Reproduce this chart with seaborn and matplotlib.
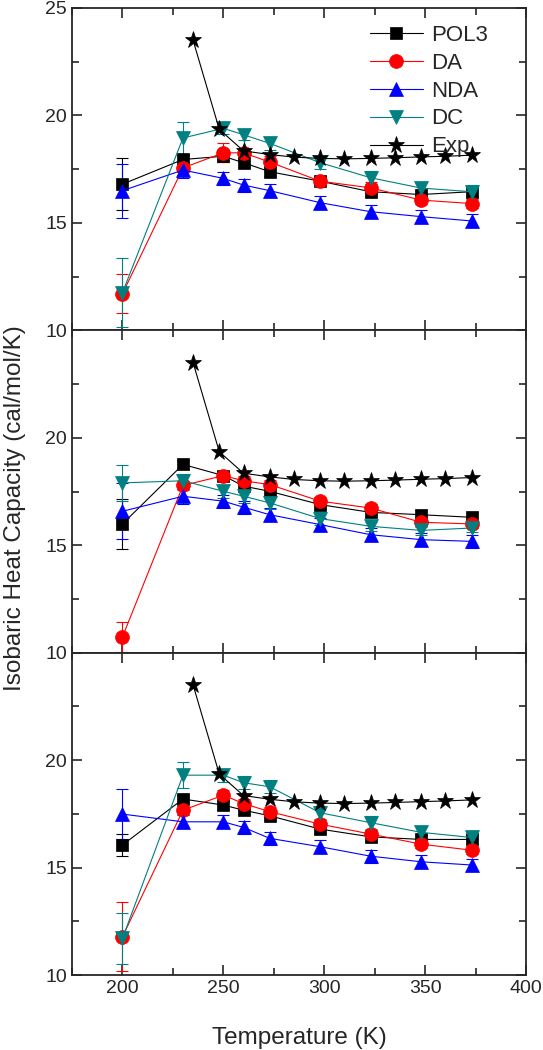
"""
Isobaric heat capacity vs temperature, three stacked panels.
"""

import numpy as np
import pandas as pd
import matplotlib
matplotlib.use("Agg")
import matplotlib.pyplot as plt
from matplotlib.ticker import MultipleLocator
import seaborn as sns

# temperatures of the simulations (K)
temps = [200, 230, 250, 260, 273, 298, 323, 348, 373]

# experimental data
exp_temps = [235, 248, 260, 273, 285, 298, 310, 323, 335, 348, 360, 373]
exp_cp = [23.5, 19.35, 18.35, 18.18, 18.06, 18.0, 17.98, 18.0, 18.03, 18.07, 18.1, 18.15]

# top panel
pol3_top = [16.8, 17.95, 18.1, 17.8, 17.38, 16.94, 16.45, 16.32, 16.45]
pol3_top_err = [1.2, 0.2, 0.25, 0.2, 0.2, 0.2, 0.2, 0.2, 0.2]
da_top = [11.7, 17.56, 18.26, 18.26, 17.83, 16.94, 16.63, 16.06, 15.9]
da_top_err = [0.9, 0.2, 0.45, 0.2, 0.3, 0.2, 0.25, 0.2, 0.2]
nda_top = [16.5, 17.46, 17.07, 16.76, 16.5, 15.94, 15.52, 15.29, 15.09]
nda_top_err = [1.25, 0.35, 0.3, 0.3, 0.3, 0.3, 0.3, 0.3, 0.3]
dc_top = [11.75, 18.95, 19.4, 19.1, 18.7, 17.8, 17.1, 16.62, 16.45]
dc_top_err = [1.6, 0.75, 0.25, 0.25, 0.3, 0.3, 0.3, 0.3, 0.3]

# middle panel
pol3_mid = [15.99, 18.76, 18.24, 17.75, 17.51, 16.89, 16.53, 16.42, 16.3]
pol3_mid_err = [1.15, 0.2, 0.2, 0.2, 0.2, 0.2, 0.2, 0.2, 0.2]
da_mid = [10.73, 17.78, 18.24, 18.0, 17.82, 17.05, 16.73, 16.07, 15.99]
da_mid_err = [0.7, 0.2, 0.2, 0.2, 0.2, 0.2, 0.2, 0.2, 0.2]
nda_mid = [16.58, 17.28, 17.05, 16.77, 16.42, 15.96, 15.49, 15.26, 15.18]
nda_mid_err = [1.3, 0.35, 0.3, 0.3, 0.3, 0.3, 0.3, 0.3, 0.3]
dc_mid = [17.9, 18.0, 17.51, 17.28, 16.97, 16.24, 15.88, 15.69, 15.8]
dc_mid_err = [0.85, 0.3, 0.3, 0.3, 0.3, 0.3, 0.2, 0.2, 0.2]

# bottom panel
pol3_bot = [16.05, 18.19, 17.91, 17.67, 17.41, 16.79, 16.43, 16.31, 16.31]
pol3_bot_err = [0.5, 0.2, 0.2, 0.2, 0.2, 0.2, 0.2, 0.2, 0.2]
da_bot = [11.78, 17.67, 18.37, 17.98, 17.6, 17.02, 16.56, 16.09, 15.81]
da_bot_err = [1.6, 0.2, 0.25, 0.2, 0.2, 0.2, 0.2, 0.2, 0.2]
nda_bot = [17.49, 17.13, 17.13, 16.87, 16.36, 15.97, 15.53, 15.27, 15.12]
nda_bot_err = [1.15, 0.3, 0.3, 0.3, 0.3, 0.3, 0.3, 0.3, 0.3]
dc_bot = [11.7, 19.3, 19.3, 18.95, 18.76, 17.55, 17.09, 16.64, 16.4]
dc_bot_err = [1.2, 0.6, 0.3, 0.3, 0.3, 0.3, 0.3, 0.3, 0.3]

series_names = ["POL3", "DA", "NDA", "DC"]
series_colors = ["black", "#ff0000", "#0000ff", "#008080"]
series_markers = ["s", "o", "^", "v"]
series_msize = [9, 10, 10.5, 10.5]

panels = [
    [(pol3_top, pol3_top_err), (da_top, da_top_err), (nda_top, nda_top_err), (dc_top, dc_top_err)],
    [(pol3_mid, pol3_mid_err), (da_mid, da_mid_err), (nda_mid, nda_mid_err), (dc_mid, dc_mid_err)],
    [(pol3_bot, pol3_bot_err), (da_bot, da_bot_err), (nda_bot, nda_bot_err), (dc_bot, dc_bot_err)],
]

sns.set_style("ticks")
plt.rcParams["font.family"] = ["Liberation Sans", "DejaVu Sans"]

fig, axes = plt.subplots(3, 1, sharex=True, figsize=(5.43, 10.5), dpi=100)
fig.subplots_adjust(left=0.1326, right=0.9687, bottom=0.0714, top=0.9924, hspace=0)

for i, ax in enumerate(axes):
    for (vals, errs), name, col, mk, ms in zip(panels[i], series_names,
                                               series_colors, series_markers, series_msize):
        df = pd.DataFrame({"T": temps, "Cp": vals})
        ax.errorbar(temps, vals, yerr=errs, fmt="none", ecolor=col,
                    elinewidth=0.8, capsize=4, capthick=0.8, zorder=2)
        sns.lineplot(data=df, x="T", y="Cp", ax=ax, color=col, marker=mk,
                     markersize=ms, markeredgecolor=col, markeredgewidth=0.5,
                     linewidth=0.8, label=name, legend=False, zorder=3)
    df_exp = pd.DataFrame({"T": exp_temps, "Cp": exp_cp})
    sns.lineplot(data=df_exp, x="T", y="Cp", ax=ax, color="black", marker="*",
                 markersize=12.5, markeredgecolor="black", markeredgewidth=0.5,
                 linewidth=0.8, label="Exp", legend=False, zorder=4)

    ax.set_xlim(175, 400)
    ax.set_ylim(10, 25)
    ax.xaxis.set_major_locator(MultipleLocator(50))
    ax.xaxis.set_minor_locator(MultipleLocator(25))
    ax.set_yticks([10, 15, 20, 25])
    ax.yaxis.set_minor_locator(MultipleLocator(2.5))
    if i > 0:
        ax.set_yticklabels(["10", "15", "20", ""])
    ax.tick_params(which="both", direction="in", top=True, right=True,
                   width=1.2, labelsize=14)
    ax.tick_params(which="major", length=7)
    ax.tick_params(which="minor", length=5)
    for sp in ax.spines.values():
        sp.set_linewidth(1.3)
        sp.set_visible(True)
    ax.set_xlabel("")
    ax.set_ylabel("")

axes[2].set_xlabel("Temperature (K)", fontsize=17.5, labelpad=22)

handles, labels = axes[0].get_legend_handles_labels()
axes[0].legend(handles, labels, loc="upper left", bbox_to_anchor=(0.656, 0.948),
               frameon=False, fontsize=16, handlelength=2.4, handletextpad=0.35,
               labelspacing=0.31, borderpad=0, borderaxespad=0)

fig.text(0.027, 0.516, "Isobaric Heat Capacity (cal/mol/K)", rotation=90,
         va="center", ha="center", fontsize=17.5, family=["Liberation Sans", "DejaVu Sans"])

fig.savefig("out.png", dpi=100)
plt.close(fig)
